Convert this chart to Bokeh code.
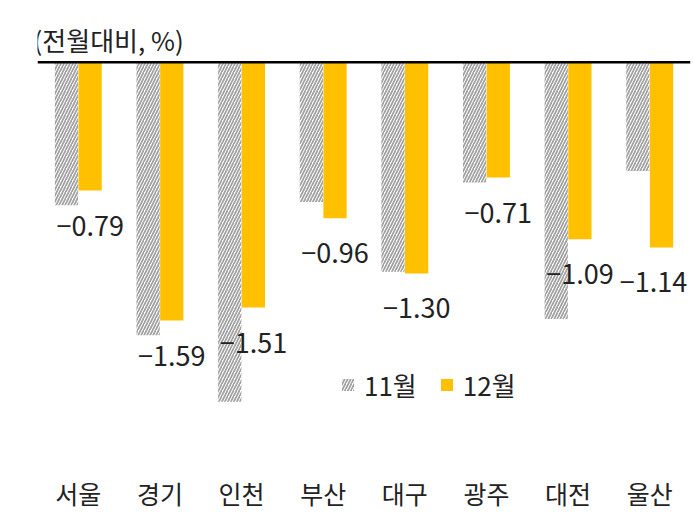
from bokeh.plotting import figure
from bokeh.models import ColumnDataSource, Range1d, FactorRange, Span, Legend, LegendItem
from bokeh.transform import dodge
from bokeh.core.properties import value
from bokeh.embed import file_html
from bokeh.resources import INLINE

regions = ["서울", "경기", "인천", "부산", "대구", "광주", "대전", "울산"]
nov = [-0.88, -1.68, -2.09, -0.86, -1.29, -0.74, -1.58, -0.67]
dec = [-0.79, -1.59, -1.51, -0.96, -1.30, -0.71, -1.09, -1.14]
dec_labels = ["−0.79", "−1.59", "−1.51", "−0.96", "−1.30", "−0.71", "−1.09", "−1.14"]
label_dx = [0, 0, 0, 0, 0, 0, 0, -8]
series_names = ["11월", "12월"]
title_text = "(전월대비, %)"

FONT = "Noto Sans CJK KR"
GOLD = "#FFC000"

src = ColumnDataSource(dict(cat=regions, nov=nov, dec=dec, lab=dec_labels, dx=label_dx))

p = figure(width=693, height=515, x_range=FactorRange(*regions, range_padding=0),
           y_range=Range1d(-2.482, 0.38), output_backend="svg", toolbar_location=None,
           min_border_left=37, min_border_right=3, min_border_top=0, min_border_bottom=50)

r_nov = p.vbar(x=dodge("cat", -0.145, range=p.x_range), top="nov", bottom=0, width=0.285,
               source=src, fill_color="white", line_color=None,
               hatch_pattern="/", hatch_color="#a0a0a0", hatch_weight=1.7, hatch_scale=6)
r_dec = p.vbar(x=dodge("cat", 0.145, range=p.x_range), top="dec", bottom=0, width=0.285,
               source=src, fill_color=GOLD, line_color=None)

p.text(x=dodge("cat", 0.145, range=p.x_range), y="dec", text="lab", source=src,
       x_offset="dx", y_offset=35, text_align="center", text_baseline="middle",
       text_font=value(FONT), text_font_size="27px", text_color="#222222")

p.add_layout(Span(location=0, dimension="width", line_color="black", line_width=2.5))

p.text(x=[0], y=[0.14], text=[title_text], x_offset=-4, text_align="left",
       text_baseline="middle", text_font=value(FONT), text_font_size="26px",
       text_color="#222222")

legend = Legend(items=[LegendItem(label=series_names[0], renderers=[r_nov]),
                       LegendItem(label=series_names[1], renderers=[r_dec])],
                orientation="horizontal", location=(303, 62),
                border_line_color=None, background_fill_alpha=0,
                label_text_font=FONT, label_text_font_size="26px", label_text_color="#222222",
                glyph_width=15, glyph_height=15, label_standoff=9, spacing=22,
                padding=0, margin=0)
p.add_layout(legend)

p.yaxis.visible = False
p.xgrid.visible = False
p.ygrid.visible = False
p.outline_line_color = None
p.xaxis.axis_line_color = None
p.xaxis.major_tick_line_color = None
p.xaxis.minor_tick_line_color = None
p.xaxis.major_tick_out = 0
p.xaxis.major_label_standoff = 9
p.xaxis.major_label_text_font = FONT
p.xaxis.major_label_text_font_size = "25px"
p.xaxis.major_label_text_color = "#222222"

open("out.html", "w").write(file_html(p, INLINE))
